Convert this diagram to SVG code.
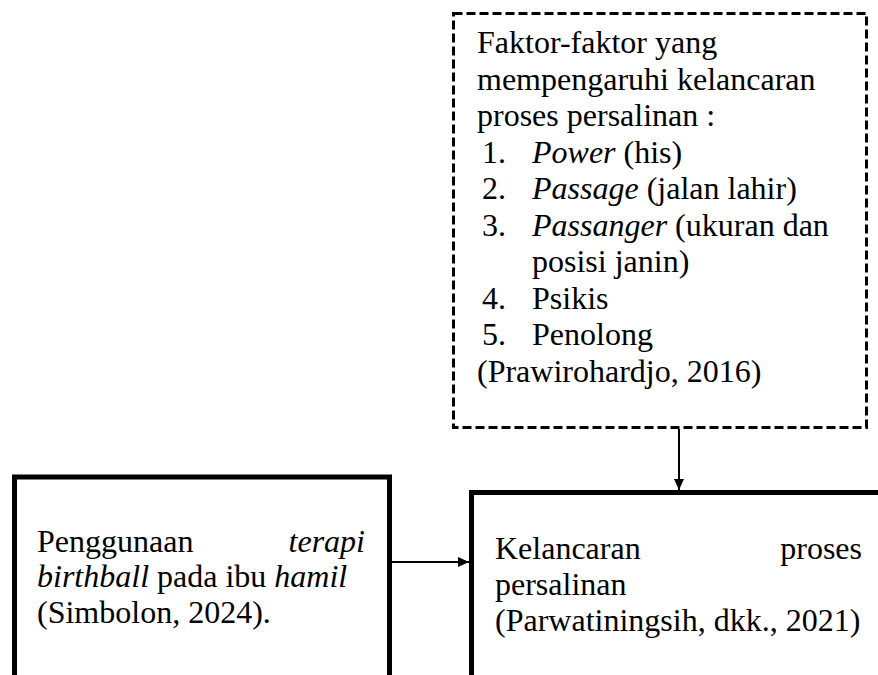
<svg xmlns="http://www.w3.org/2000/svg" width="878" height="675" viewBox="0 0 878 675">
<style>
.t{font-family:"Liberation Serif","Times New Roman",serif;font-size:32px;fill:#000}
.i{font-style:italic}
.box{fill:#fff;stroke:#000;stroke-width:5}
.dash{fill:#fff;stroke:#000;stroke-width:3;stroke-dasharray:9 4}
.conn{stroke:#000;stroke-width:2;fill:none}
</style>
<defs>
<marker id="ah" markerUnits="userSpaceOnUse" markerWidth="12" markerHeight="12" refX="11" refY="6" orient="auto">
<path d="M0,1 L11,6 L0,11 Z" fill="#000"/>
</marker>
</defs>
<rect width="878" height="675" fill="#fff"/>
<g id="faktor">
<rect class="dash" x="453.5" y="13.5" width="413" height="414"/>
<text class="t" x="477" y="53">Faktor-faktor yang</text>
<text class="t" x="477" y="89.5">mempengaruhi kelancaran</text>
<text class="t" x="477" y="126">proses persalinan :</text>
<text class="t" x="482" y="162.5">1.</text><text class="t" x="532" y="162.5"><tspan class="i">Power</tspan> (his)</text>
<text class="t" x="482" y="199">2.</text><text class="t" x="532" y="199"><tspan class="i">Passage</tspan> (jalan lahir)</text>
<text class="t" x="482" y="235.5">3.</text><text class="t" x="532" y="235.5"><tspan class="i">Passanger</tspan> (ukuran dan</text>
<text class="t" x="532" y="272">posisi janin)</text>
<text class="t" x="482" y="308.5">4.</text><text class="t" x="532" y="308.5">Psikis</text>
<text class="t" x="482" y="345">5.</text><text class="t" x="532" y="345">Penolong</text>
<text class="t" x="477" y="381.5">(Prawirohardjo, 2016)</text>
</g>
<g id="terapi">
<rect class="box" x="14.5" y="477" width="375" height="240"/>
<text class="t" x="37" y="552">Penggunaan</text>
<text class="t i" x="365" y="552" text-anchor="end">terapi</text>
<text class="t" x="37" y="587"><tspan class="i">birthball</tspan> pada ibu <tspan class="i">hamil</tspan></text>
<text class="t" x="37" y="623">(Simbolon, 2024).</text>
</g>
<g id="kelancaran">
<rect class="box" x="471.5" y="492.5" width="450" height="240"/>
<text class="t" x="495" y="559">Kelancaran</text>
<text class="t" x="862" y="559" text-anchor="end">proses</text>
<text class="t" x="495" y="595">persalinan</text>
<text class="t" x="495" y="631">(Parwatiningsih, dkk., 2021)</text>
</g>
<g id="connectors">
<line class="conn" x1="679" y1="429" x2="679" y2="490" marker-end="url(#ah)"/>
<line class="conn" x1="392" y1="562" x2="469" y2="562" marker-end="url(#ah)"/>
</g>
</svg>
